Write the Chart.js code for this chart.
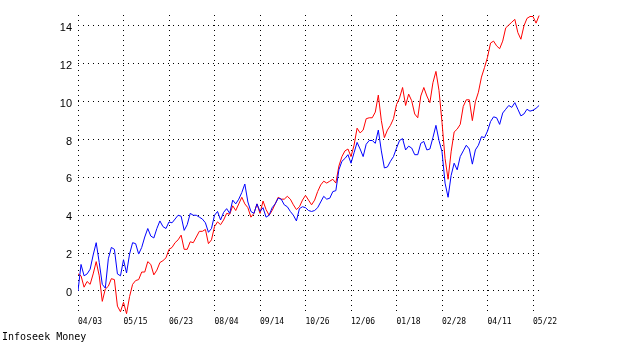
<!DOCTYPE html>
<html>
<head>
<meta charset="utf-8">
<script src="https://cdn.jsdelivr.net/npm/chart.js@4.4.1/dist/chart.umd.min.js"></script>
<style>
  html, body { margin: 0; padding: 0; background: #fff; }
  #wrap { width: 630px; height: 359px; }
</style>
</head>
<body>
<div id="wrap"><canvas id="grafico" width="630" height="359"></canvas></div>
<script>
// Fechas del eje X: una marca cada 30 sesiones
const etiquetasFechas = ['04/03', '05/15', '06/23', '08/04', '09/14', '10/26', '12/06', '01/18', '02/28', '04/11', '05/22'];
const ticksY = [0, 2, 4, 6, 8, 10, 12, 14];
const PASO_DIAS = 2; // un punto cada 2 sesiones

// Serie roja
const serieRoja = [
    0.9, 0.8, 0.2, 0.5, 0.35, 0.9, 1.55, 0.8, -0.55, 0.1,
    0.25, 0.65, 0.6, -0.8, -1.1, -0.6, -1.2, -0.3, 0.35, 0.55,
    0.6, 1.0, 1.0, 1.55, 1.4, 0.85, 1.1, 1.5, 1.6, 1.75,
    2.2, 2.3, 2.55, 2.7, 2.95, 2.2, 2.2, 2.6, 2.55, 2.85,
    3.15, 3.15, 3.25, 2.5, 2.7, 3.4, 3.65, 3.5, 3.75, 4.1,
    4.05, 4.5, 4.25, 4.6, 4.95, 4.6, 4.4, 3.9, 4.1, 4.6,
    4.1, 4.75, 4.3, 4.0, 4.25, 4.6, 4.95, 4.85, 4.85, 5.0,
    4.85, 4.55, 4.3, 4.45, 4.8, 5.05, 4.8, 4.55, 4.8, 5.25,
    5.6, 5.8, 5.7, 5.8, 5.9, 5.7, 6.6, 7.1, 7.4, 7.5,
    7.1, 7.7, 8.6, 8.35, 8.5, 9.1, 9.15, 9.15, 9.45, 10.35,
    9.0, 8.1, 8.5, 8.75, 9.1, 9.85, 10.2, 10.75, 9.8, 10.4,
    10.05, 9.35, 9.15, 10.3, 10.75, 10.3, 9.95, 11.0, 11.6, 10.6,
    8.9, 7.0, 5.9, 7.35, 8.4, 8.55, 8.8, 9.75, 10.1, 10.1,
    9.0, 10.0, 10.5, 11.3, 11.8, 12.35, 13.1, 13.2, 12.95, 12.8,
    13.2, 13.9, 14.05, 14.2, 14.35, 13.65, 13.3, 14.0, 14.4, 14.5,
    14.5, 14.15, 14.55,
];

// Serie azul
const serieAzul = [
    0.0, 1.4, 0.8, 0.9, 1.15, 1.9, 2.55, 1.5, 0.35, 0.15,
    1.7, 2.3, 2.2, 0.9, 0.8, 1.65, 0.95, 1.95, 2.55, 2.5,
    1.95, 2.3, 2.85, 3.3, 2.9, 2.8, 3.3, 3.7, 3.4, 3.3,
    3.65, 3.6, 3.8, 4.0, 3.95, 3.2, 3.5, 4.1, 4.0, 4.0,
    3.9, 3.8, 3.6, 3.1, 3.3, 4.0, 4.2, 3.75, 4.15, 4.35,
    4.1, 4.8, 4.6, 4.85, 5.2, 5.65, 4.7, 4.2, 4.1, 4.6,
    4.2, 4.4, 3.9, 4.0, 4.4, 4.6, 4.9, 4.85, 4.55, 4.45,
    4.2, 4.0, 3.7, 4.35, 4.45, 4.4, 4.25, 4.2, 4.25, 4.4,
    4.7, 5.0, 4.85, 4.9, 5.25, 5.3, 6.4, 6.85, 7.0, 7.2,
    6.75, 7.3, 7.85, 7.5, 7.1, 7.75, 7.95, 7.95, 7.8, 8.5,
    7.4, 6.5, 6.55, 6.85, 7.1, 7.55, 7.95, 8.05, 7.45, 7.65,
    7.55, 7.2, 7.2, 7.8, 7.9, 7.45, 7.5, 8.1, 8.75, 7.95,
    7.35, 5.7, 4.95, 6.1, 6.75, 6.4, 7.1, 7.4, 7.7, 7.5,
    6.7, 7.45, 7.7, 8.15, 8.1, 8.45, 8.95, 9.2, 9.15, 8.8,
    9.4, 9.6, 9.8, 9.7, 9.95, 9.6, 9.25, 9.35, 9.6, 9.5,
    9.55, 9.65, 9.8,
];

const aPuntos = serie => serie.map((v, i) => ({ x: i * PASO_DIAS, y: v }));

const DASH_GRILLA = [1, 4];

// Texto del pie ("Infoseek Money")
const pieTexto = {
    id: 'pieTexto',
    afterDraw(chart) {
        const ctx = chart.ctx;
        ctx.save();
        ctx.font = '10px "DejaVu Sans Mono", monospace';
        ctx.fillStyle = '#000';
        ctx.textBaseline = 'middle';
        ctx.textAlign = 'left';
        ctx.fillText('Infoseek Money', 2, 337);
        ctx.restore();
    },
};

new Chart(document.getElementById('grafico').getContext('2d'), {
    type: 'line',
    data: {
        datasets: [
            {
                label: 'Azul',
                data: aPuntos(serieAzul),
                borderColor: '#0000ff',
                borderWidth: 1,
                pointRadius: 0,
                tension: 0,
                fill: false,
            },
            {
                label: 'Roja',
                data: aPuntos(serieRoja),
                borderColor: '#ff0000',
                borderWidth: 1,
                pointRadius: 0,
                tension: 0,
                fill: false,
            },
        ],
    },
    options: {
        responsive: false,
        animation: false,
        layout: { padding: { left: 0, top: 15, right: 90, bottom: 0 } },
        plugins: {
            legend: { display: false },
            tooltip: { enabled: false },
        },
        scales: {
            x: {
                type: 'linear',
                min: 0,
                max: 304.6,
                afterBuildTicks: (scale) => {
                    scale.ticks = etiquetasFechas.map((_, i) => ({ value: i * 30 }));
                },
                afterFit: (scale) => { scale.height = 44; },
                grid: { color: '#000', lineWidth: 1, drawTicks: false },
                border: { display: false, dash: DASH_GRILLA },
                ticks: {
                    align: 'start',
                    padding: 2,
                    maxRotation: 0,
                    autoSkip: false,
                    color: '#000',
                    font: { family: '"DejaVu Sans Mono", monospace', size: 8 },
                    callback: (v) => etiquetasFechas[Math.round(v / 30)] ?? '',
                },
            },
            y: {
                min: -1.27,
                max: 14.58,
                afterBuildTicks: (scale) => {
                    scale.ticks = ticksY.map(v => ({ value: v }));
                },
                afterFit: (scale) => { scale.width = 78; },
                grid: { color: '#000', lineWidth: 1, drawTicks: false },
                border: { display: false, dash: DASH_GRILLA },
                ticks: {
                    padding: 6,
                    labelOffset: 2,
                    color: '#000',
                    font: { family: '"Liberation Sans", Arial, sans-serif', size: 11 },
                    callback: (v) => String(v),
                },
            },
        },
    },
    plugins: [pieTexto],
});
</script>
</body>
</html>
